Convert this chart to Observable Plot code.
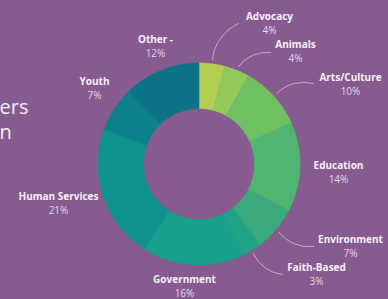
<!DOCTYPE html>
<html><head><meta charset="utf-8">
<script src="https://cdn.jsdelivr.net/npm/d3@7"></script>
<script src="https://cdn.jsdelivr.net/npm/@observablehq/plot@0.6"></script>
<style>
html,body{margin:0;padding:0;background:#875b8f;overflow:hidden}
svg{display:block}
</style></head><body><div id="chart"></div>
<script>
// ---- data ----
const categories = ["Advocacy","Animals","Arts/Culture","Education","Environment","Faith-Based","Government","Human Services","Youth","Other -"];
const shares = [4,4,10,14,7,3,16,21,7,12];
const percentLabels = ["4%","4%","10%","14%","7%","3%","16%","21%","7%","12%"];
const colors = ["#b3cf52","#94c95a","#6fbf63","#51b572","#3aaa7c","#1fa385","#17a08c","#0f9190","#0c818b","#0d7488"];
const titleFragments = ["ers","n"];

// ---- layout (pixels) ----
const W = 388, H = 299, cx = 198.5, cy = 163.5, rOuter = 101, rInner = 55.5;
const labelPos = [[269,16],[295,44],[350,77],[338,165],[350,239],[316,267],[184,279],[58,196],[94,81],[155,39]];
const leaderEnd = [[238,23],[270,52],[313,83],null,[313,246],[282,274],null,null,null,null];
const leaderBend = [30,30,30,0,-30,-30,0,0,0,0];
const titlePos = [[-1,113],[-1,138]];

const total = d3.sum(shares);
let acc = 0;
const slices = shares.map((v, i) => {
  const a0 = acc / total * 2 * Math.PI; acc += v;
  const a1 = acc / total * 2 * Math.PI;
  return {cat: categories[i], a0, a1, mid: (a0 + a1) / 2};
});
const pts = [];
for (const s of slices) {
  const n = Math.max(2, Math.ceil((s.a1 - s.a0) / 0.015));
  for (let k = 0; k <= n; k++) {
    const a = s.a0 + (s.a1 - s.a0) * k / n;
    pts.push({cat: s.cat, x: cx + rOuter * Math.sin(a), y: cy - rOuter * Math.cos(a)});
  }
  for (let k = n; k >= 0; k--) {
    const a = s.a0 + (s.a1 - s.a0) * k / n;
    pts.push({cat: s.cat, x: cx + rInner * Math.sin(a), y: cy - rInner * Math.cos(a)});
  }
}
const labels = categories.map((c, i) => ({name: c, pct: percentLabels[i], x: labelPos[i][0], y: labelPos[i][1]}));
const leaders = slices.map((s, i) => leaderEnd[i] && ({
  x1: cx + (rOuter + 4) * Math.sin(s.mid), y1: cy - (rOuter + 4) * Math.cos(s.mid),
  x2: leaderEnd[i][0], y2: leaderEnd[i][1], bend: leaderBend[i]
})).filter(Boolean);

const font = "Open Sans, Lato, sans-serif";
const chart = Plot.plot({
  width: W, height: H, margin: 0,
  x: {domain: [0, W], range: [0, W], axis: null},
  y: {domain: [0, H], range: [0, H], axis: null},
  color: {domain: categories, range: colors},
  style: {background: "#875b8f", fontFamily: font, overflow: "hidden"},
  marks: [
    Plot.line(pts, {x: "x", y: "y", z: "cat", fill: "cat", stroke: "cat", strokeWidth: 0.6, curve: "linear-closed"}),
    ...leaders.map(l => Plot.arrow([l], {x1: "x1", y1: "y1", x2: "x2", y2: "y2", bend: l.bend, headLength: 0, stroke: "#e9dcec", strokeOpacity: 0.6, strokeWidth: 1})),
    Plot.text(labels, {x: "x", y: "y", text: "name", fontWeight: 700, fontSize: 10, fill: "#f6f0f7"}),
    Plot.text(labels, {x: "x", y: d => d.y + 14.5, text: "pct", fontSize: 10, fill: "#e6d6ea"}),
    Plot.text(titleFragments, {x: (d, i) => titlePos[i][0], y: (d, i) => titlePos[i][1], text: d => d, textAnchor: "start", lineAnchor: "bottom", fontSize: 20, fontWeight: 400, fill: "#f3ecf4"})
  ]
});
document.getElementById("chart").appendChild(chart);
</script></body></html>
